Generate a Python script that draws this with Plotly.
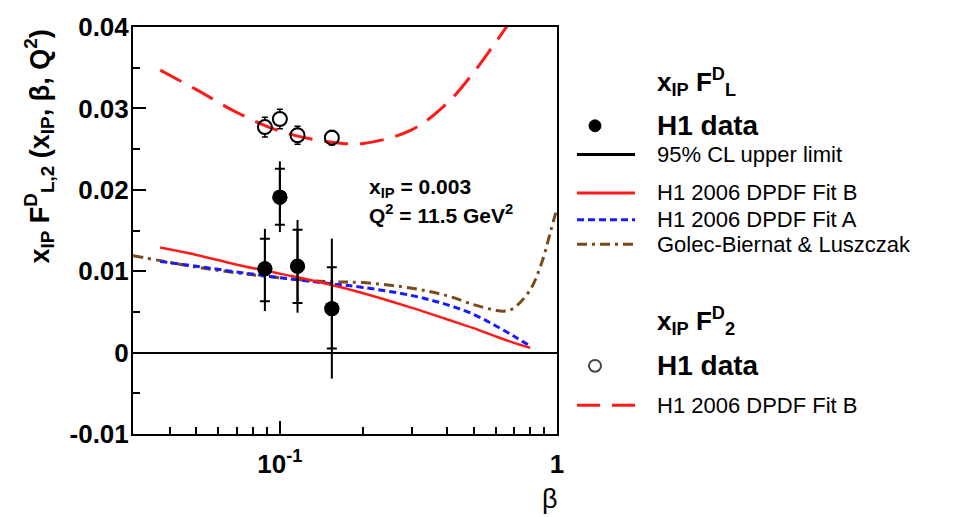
import plotly.graph_objects as go

# ---------------- data ----------------
beta_pts = [0.0883, 0.100, 0.1158, 0.154]
fl_vals = [0.0103, 0.0191, 0.0106, 0.0054]
fl_stat_up = [0.0037, 0.0035, 0.0045, 0.0051]
fl_stat_dn = [0.0040, 0.0034, 0.0045, 0.0049]
fl_tot_up = [0.0049, 0.0044, 0.0057, 0.0086]
fl_tot_dn = [0.0052, 0.0043, 0.0057, 0.0086]

f2_vals = [0.0277, 0.0287, 0.0267, 0.0264]
f2_err = [0.0012, 0.0012, 0.0011, 0.0009]

beta_fit = [0.037, 0.05, 0.07, 0.10, 0.15, 0.20, 0.30, 0.40, 0.50, 0.60, 0.70, 0.80]
fl_fitB = [0.0129, 0.0120, 0.0108, 0.0097, 0.0084, 0.0073, 0.0055, 0.0041, 0.0030, 0.0020, 0.0012, 0.0006]
fl_fitA = [0.0112, 0.0106, 0.0099, 0.0092, 0.0085, 0.0080, 0.0070, 0.0059, 0.0047, 0.0033, 0.0020, 0.0008]

beta_gbw = [0.0295, 0.037, 0.05, 0.07, 0.10, 0.15, 0.20, 0.30, 0.40, 0.50, 0.60, 0.65, 0.70, 0.80, 0.88, 0.95, 0.99]
fl_gbw = [0.0119, 0.0113, 0.0105, 0.0098, 0.0092, 0.0087, 0.0086, 0.0079, 0.0070, 0.0059, 0.0052, 0.0051, 0.0055, 0.0077, 0.0110, 0.0150, 0.0172]

beta_f2fit = [0.037, 0.05, 0.07, 0.10, 0.15, 0.20, 0.30, 0.40, 0.50, 0.60, 0.66]
f2_fitB = [0.0347, 0.0323, 0.0295, 0.0272, 0.0259, 0.0257, 0.0274, 0.0306, 0.0344, 0.0381, 0.0401]

x_tickvals = [0.1, 1]
x_ticktext = ["10<sup>-1</sup>", "1"]
x_minor = [0.04, 0.05, 0.06, 0.07, 0.08, 0.09, 0.2, 0.3, 0.4, 0.5, 0.6, 0.7, 0.8, 0.9]
y_tickvals = [-0.01, 0, 0.01, 0.02, 0.03, 0.04]
y_ticktext = ["-0.01", "0", "0.01", "0.02", "0.03", "0.04"]
y_minor = [-0.005, 0.005, 0.015, 0.025, 0.035]

# ---------------- layout geometry ----------------
W, H = 955, 517
L, R, T, B = 133, 557, 22, 434
FONT = "Liberation Sans, Arial, sans-serif"


def px(xp):
    return (xp - L) / (R - L)


def py(yp):
    return (B - yp) / (B - T)


fig = go.Figure()

# FL curves
fig.add_trace(go.Scatter(x=beta_gbw, y=fl_gbw, mode="lines", line=dict(color="#7a4a1a", width=3, dash="10px,5px,3px,5px", shape="spline"), showlegend=False))
fig.add_trace(go.Scatter(x=beta_fit, y=fl_fitA, mode="lines", line=dict(color="#1a1aff", width=3, dash="7px,4px", shape="spline"), showlegend=False))
fig.add_trace(go.Scatter(x=beta_fit, y=fl_fitB, mode="lines", line=dict(color="#ff1a1a", width=2.5, shape="spline"), showlegend=False))

# F2 data error bars (white mask inside the circles so bars show only outside)
fig.add_trace(go.Scatter(x=beta_pts, y=f2_vals, mode="markers",
                         marker=dict(symbol="circle", size=12, color="white"),
                         error_y=dict(type="data", array=f2_err, color="black", thickness=1.5, width=3),
                         showlegend=False, hoverinfo="skip"))
# F2 fit B curve
fig.add_trace(go.Scatter(x=beta_f2fit, y=f2_fitB, mode="lines", line=dict(color="#ff1a1a", width=3, dash="24px,12px", shape="spline"), showlegend=False))
# F2 data open circles
fig.add_trace(go.Scatter(x=beta_pts, y=f2_vals, mode="markers",
                         marker=dict(symbol="circle-open", size=14, color="black", line=dict(width=2)),
                         showlegend=False))

# FL data: total error (no caps) + stat error caps
fig.add_trace(go.Scatter(x=beta_pts, y=fl_vals, mode="markers",
                         marker=dict(symbol="circle", size=15, color="black"),
                         error_y=dict(type="data", array=fl_tot_up, arrayminus=fl_tot_dn, color="black", thickness=2, width=0),
                         showlegend=False))
fig.add_trace(go.Scatter(x=beta_pts, y=fl_vals, mode="markers",
                         marker=dict(symbol="circle", size=15, color="black"),
                         error_y=dict(type="data", array=fl_stat_up, arrayminus=fl_stat_dn, color="black", thickness=2, width=5),
                         showlegend=False))

fig.update_layout(
    width=W, height=H,
    margin=dict(l=L, r=W - R, t=T, b=H - B),
    paper_bgcolor="white", plot_bgcolor="white",
    font=dict(family=FONT, color="black"),
    showlegend=False,
    xaxis=dict(type="log", range=[-1.53, 0], showgrid=False, zeroline=False,
               showline=True, linecolor="black", linewidth=2, mirror=True,
               ticks="inside", ticklen=13, tickwidth=1.5, tickcolor="black",
               tickvals=x_tickvals, ticktext=x_ticktext, ticklabelstandoff=6,
               tickfont=dict(size=26, weight="bold", family=FONT),
               minor=dict(ticks="inside", ticklen=7, tickwidth=1.5, tickcolor="black", tickvals=x_minor)),
    yaxis=dict(range=[-0.01, 0.04], showgrid=False,
               zeroline=True, zerolinecolor="black", zerolinewidth=1.5,
               showline=True, linecolor="black", linewidth=2, mirror=True,
               ticks="inside", ticklen=13, tickwidth=1.5, tickcolor="black",
               tickvals=y_tickvals, ticktext=y_ticktext, ticklabelstandoff=-3,
               tickfont=dict(size=26, weight="bold", family=FONT),
               minor=dict(ticks="inside", ticklen=7, tickwidth=1.5, tickcolor="black", tickvals=y_minor)),
)

ann = []
# axis titles
ann.append(dict(x=px(39), y=py(143), xref="paper", yref="paper", textangle=-90,
                text="x<sub>IP</sub> F<sup>D</sup><sub>L,2</sub> (x<sub>IP</sub>, β, Q<sup>2</sup>)",
                showarrow=False, xanchor="center", yanchor="middle",
                font=dict(size=27, weight="bold", family=FONT)))
ann.append(dict(x=px(550), y=py(500), xref="paper", yref="paper", text="β", showarrow=False,
                xanchor="center", yanchor="middle", font=dict(size=27, family=FONT)))
# kinematics text
ann.append(dict(x=px(367), y=py(185), xref="paper", yref="paper", text="x<sub>IP</sub> = 0.003",
                showarrow=False, xanchor="left", yanchor="middle", font=dict(size=21, weight="bold", family=FONT)))
ann.append(dict(x=px(367), y=py(211), xref="paper", yref="paper", text="Q<sup>2</sup> = 11.5 GeV<sup>2</sup>",
                showarrow=False, xanchor="left", yanchor="middle", font=dict(size=21, weight="bold", family=FONT)))

# legend texts
TX = 655
legend_text = [
    ("x<sub>IP</sub> F<sup>D</sup><sub>L</sub>", 78, 26, "bold"),
    ("H1 data", 122, 28, "bold"),
    ("95% CL upper limit", 151, 22, "normal"),
    ("H1 2006 DPDF Fit B", 190, 22, "normal"),
    ("H1 2006 DPDF Fit A", 217, 22, "normal"),
    ("Golec-Biernat & Luszczak", 242, 22, "normal"),
    ("x<sub>IP</sub> F<sup>D</sup><sub>2</sub>", 320, 26, "bold"),
    ("H1 data", 365, 28, "bold"),
    ("H1 2006 DPDF Fit B", 405, 22, "normal"),
]
for txt, yy, fs, wt in legend_text:
    ann.append(dict(x=px(TX), y=py(yy), xref="paper", yref="paper", text=txt, showarrow=False,
                    xanchor="left", yanchor="middle", font=dict(size=fs, weight=wt, family=FONT)))
fig.update_layout(annotations=ann)

# legend keys
K0, K1 = 577, 635
shapes = []


def key_line(yy, color, width, dash):
    shapes.append(dict(type="line", xref="paper", yref="paper", x0=px(K0), x1=px(K1), y0=py(yy), y1=py(yy),
                       line=dict(color=color, width=width, dash=dash)))


key_line(151, "black", 3, "solid")
key_line(190, "#ff1a1a", 3, "solid")
key_line(217, "#1a1aff", 3, "7px,4px")
key_line(242, "#7a4a1a", 3, "10px,5px,3px,5px")
key_line(405, "#ff1a1a", 3, "23px,12px")


def key_circle(cx, cy, r, fill, lc, lw):
    shapes.append(dict(type="circle", xref="paper", yref="paper", x0=px(cx - r), x1=px(cx + r),
                       y0=py(cy + r), y1=py(cy - r), fillcolor=fill, line=dict(color=lc, width=lw)))


key_circle(595, 122, 6, "black", "black", 1)
key_circle(595, 365, 6, "rgba(0,0,0,0)", "#444", 2)
fig.update_layout(shapes=shapes)

fig.write_html("out.html")
